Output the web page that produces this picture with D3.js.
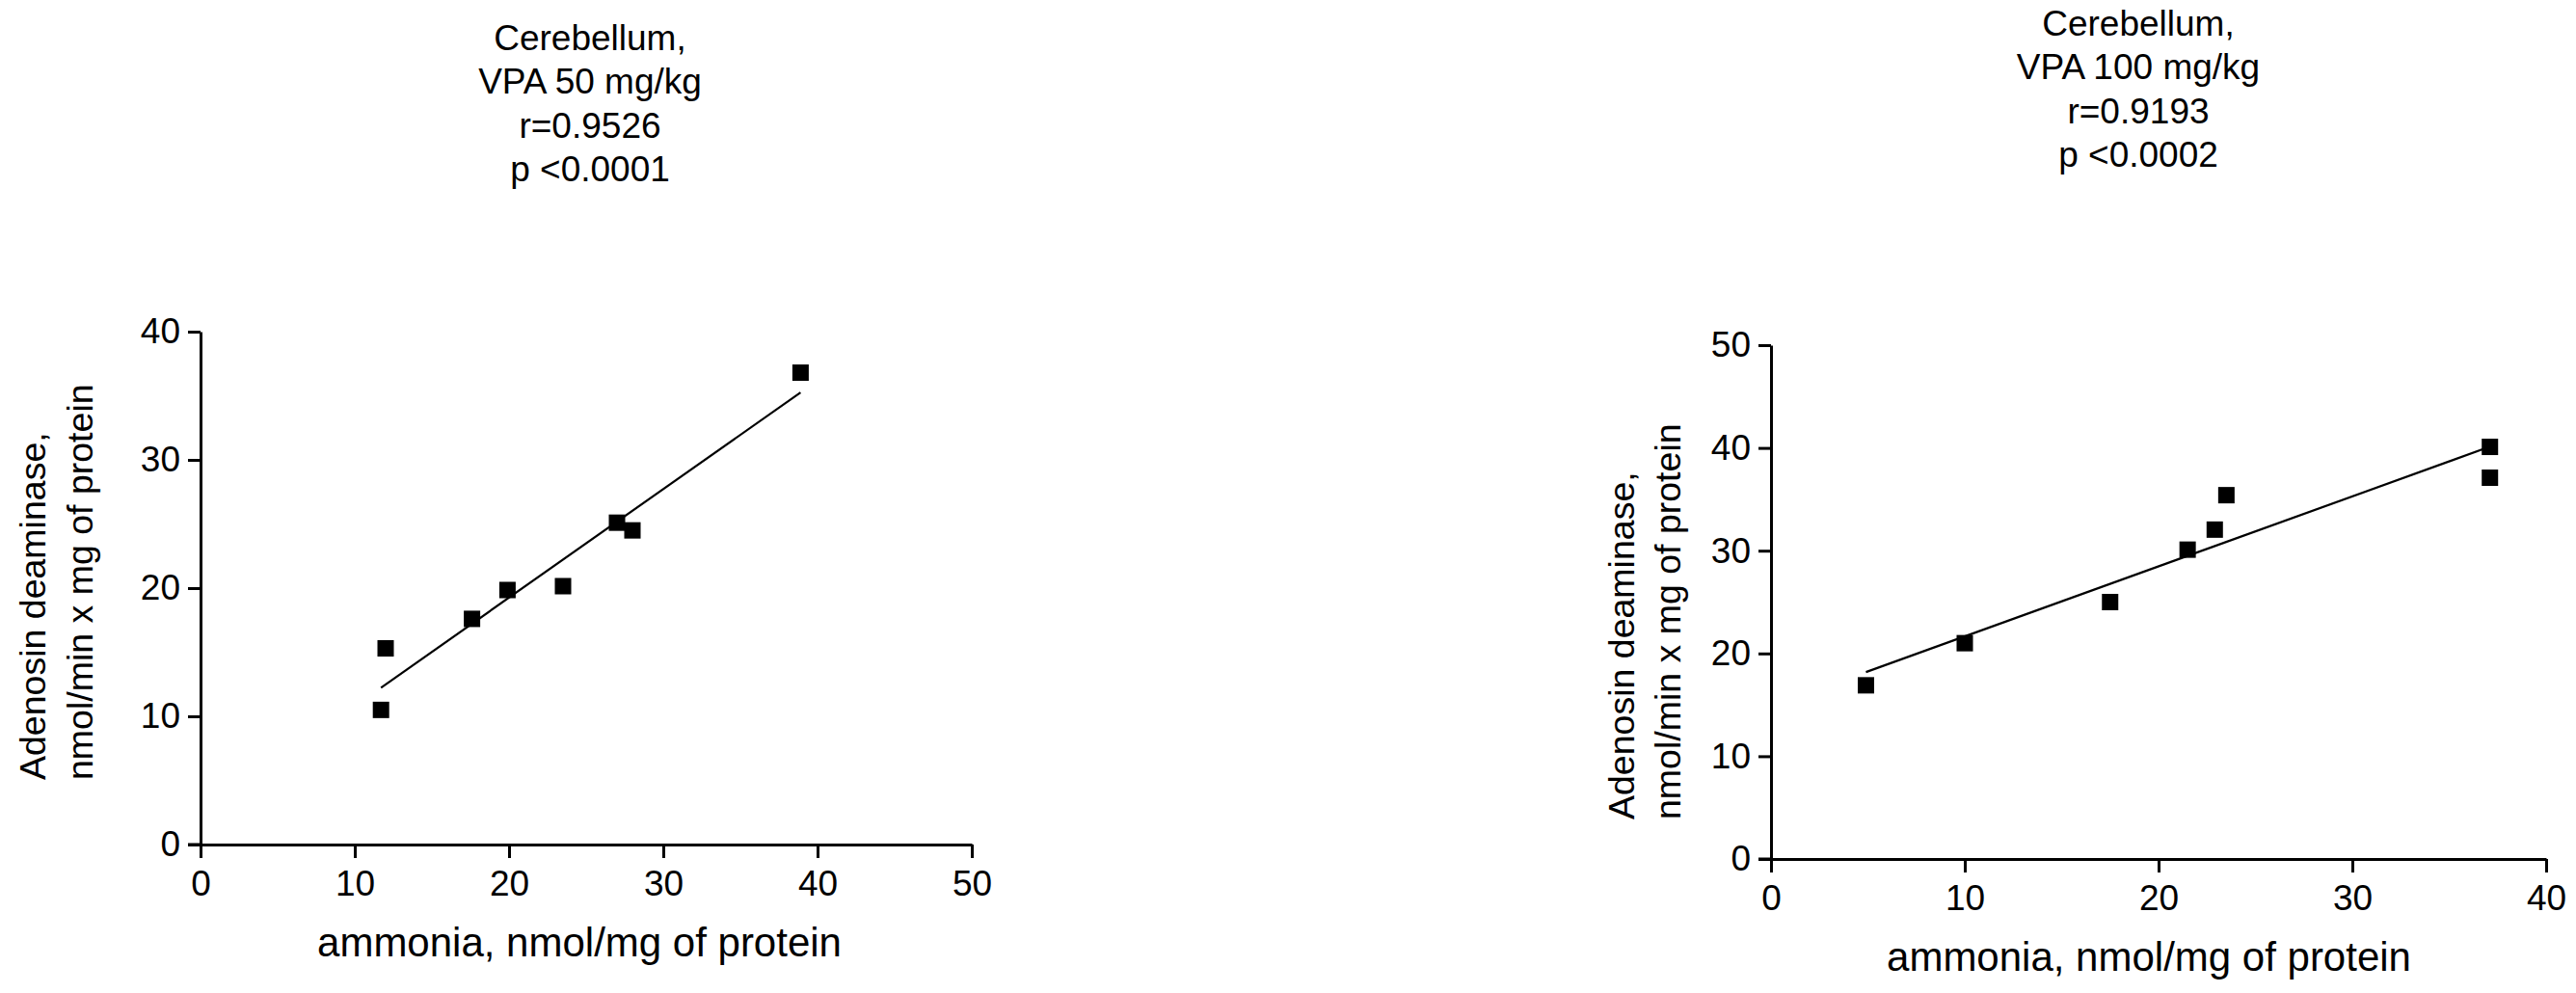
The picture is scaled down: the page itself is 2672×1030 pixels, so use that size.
<!DOCTYPE html>
<html>
<head>
<meta charset="utf-8">
<script src="https://cdn.jsdelivr.net/npm/d3@7"></script>
<style>
  html, body { margin: 0; padding: 0; background: #fff; }
  svg { display: block; font-family: "Liberation Sans", Arial, sans-serif; }
</style>
</head>
<body>
<svg id="chart" width="2672" height="1030"></svg>
<script>
// ---- data ----
const leftTitle = ["Cerebellum,", "VPA 50 mg/kg", "r=0.9526", "p <0.0001"];
const rightTitle = ["Cerebellum,", "VPA 100 mg/kg", "r=0.9193", "p <0.0002"];
const leftAmmonia = [12.0, 11.7, 17.6, 19.9, 23.5, 27.0, 28.0, 38.9];
const leftADA     = [15.3, 10.5, 17.6, 19.85, 20.15, 25.1, 24.5, 36.8];
const rightAmmonia = [4.9, 10.0, 17.5, 21.5, 22.9, 23.5, 37.1, 37.1];
const rightADA     = [16.9, 21.0, 25.0, 30.1, 32.05, 35.4, 40.1, 37.1];
const leftXTicks = [0, 10, 20, 30, 40, 50];
const leftYTicks = [0, 10, 20, 30, 40];
const rightXTicks = [0, 10, 20, 30, 40];
const rightYTicks = [0, 10, 20, 30, 40, 50];
const xAxisTitle = "ammonia, nmol/mg of protein";
const yAxisTitle = ["Adenosin deaminase,", "nmol/min x mg of protein"];

const svg = d3.select("#chart");

function fit(xs, ys) {
  const mx = d3.mean(xs), my = d3.mean(ys);
  let sxy = 0, sxx = 0;
  xs.forEach((x, i) => { sxy += (x - mx) * (ys[i] - my); sxx += (x - mx) * (x - mx); });
  const b = sxy / sxx;
  return { b, a: my - b * mx };
}

function panel(cfg) {
  const g = svg.append("g");
  const x = d3.scaleLinear().domain(cfg.xDomain).range(cfg.xRange);
  const y = d3.scaleLinear().domain(cfg.yDomain).range(cfg.yRange);

  // axes
  const xa = g.append("g").attr("transform", `translate(0,${cfg.yRange[0]})`)
    .call(d3.axisBottom(x).tickValues(cfg.xTicks).tickSize(14).tickSizeOuter(0).tickPadding(13).tickFormat(d3.format("d")));
  const ya = g.append("g").attr("transform", `translate(${cfg.xRange[0]},0)`)
    .call(d3.axisLeft(y).tickValues(cfg.yTicks).tickSize(13).tickSizeOuter(0).tickPadding(8).tickFormat(d3.format("d")));
  [xa, ya].forEach(a => {
    a.selectAll("path.domain").attr("stroke", "#000").attr("stroke-width", 3);
    a.selectAll(".tick line").attr("stroke", "#000").attr("stroke-width", 3);
    a.selectAll(".tick text").attr("fill", "#000").style("font-size", "37px")
      .style("font-family", "'Liberation Sans', Arial, sans-serif");
  });
  // extend x-axis line to meet y tick at 0
  g.append("line").attr("x1", cfg.xRange[0] - 13).attr("x2", cfg.xRange[0])
    .attr("y1", y(0)).attr("y2", y(0)).attr("stroke", "#000").attr("stroke-width", 3);

  // regression line
  const f = fit(cfg.xs, cfg.ys);
  const ext = d3.extent(cfg.xs);
  g.append("path")
    .datum(ext.map(v => [v, f.a + f.b * v]))
    .attr("d", d3.line().x(d => x(d[0])).y(d => y(d[1])))
    .attr("fill", "none").attr("stroke", "#000").attr("stroke-width", 2.2);

  // points
  const s = 17;
  g.selectAll("rect.pt").data(cfg.xs.map((v, i) => [v, cfg.ys[i]])).join("rect")
    .attr("class", "pt")
    .attr("x", d => x(d[0]) - s / 2).attr("y", d => y(d[1]) - s / 2)
    .attr("width", s).attr("height", s).attr("fill", "#000");

  // title
  const t = g.append("text").attr("text-anchor", "middle")
    .style("font-size", "37px").attr("fill", "#000");
  cfg.title.forEach((line, i) => {
    t.append("tspan").attr("x", cfg.titleX).attr("y", cfg.titleY + i * 45.3).text(line);
  });

  // x-axis title
  g.append("text").attr("x", cfg.xTitleX).attr("y", cfg.xTitleY)
    .attr("text-anchor", "middle").style("font-size", "42px").attr("fill", "#000")
    .text(xAxisTitle);

  // y-axis title (two lines, rotated, start-aligned at bottom)
  yAxisTitle.forEach((line, i) => {
    g.append("text")
      .attr("transform", `translate(${cfg.yTitleX[i]},${cfg.yTitleBottom}) rotate(-90)`)
      .attr("text-anchor", "start").style("font-size", "37.5px").attr("fill", "#000")
      .text(line);
  });
}

panel({
  xs: leftAmmonia, ys: leftADA,
  xDomain: [0, 50], yDomain: [0, 40],
  xRange: [208, 1008], yRange: [876, 344],
  xTicks: leftXTicks, yTicks: leftYTicks,
  title: leftTitle, titleX: 612, titleY: 52,
  xTitleX: 601, xTitleY: 992,
  yTitleX: [47, 96], yTitleBottom: 809
});

panel({
  xs: rightAmmonia, ys: rightADA,
  xDomain: [0, 40], yDomain: [0, 50],
  xRange: [1837, 2641], yRange: [891, 358],
  xTicks: rightXTicks, yTicks: rightYTicks,
  title: rightTitle, titleX: 2218, titleY: 37,
  xTitleX: 2229, xTitleY: 1007,
  yTitleX: [1695, 1743], yTitleBottom: 850
});
</script>
</body>
</html>
